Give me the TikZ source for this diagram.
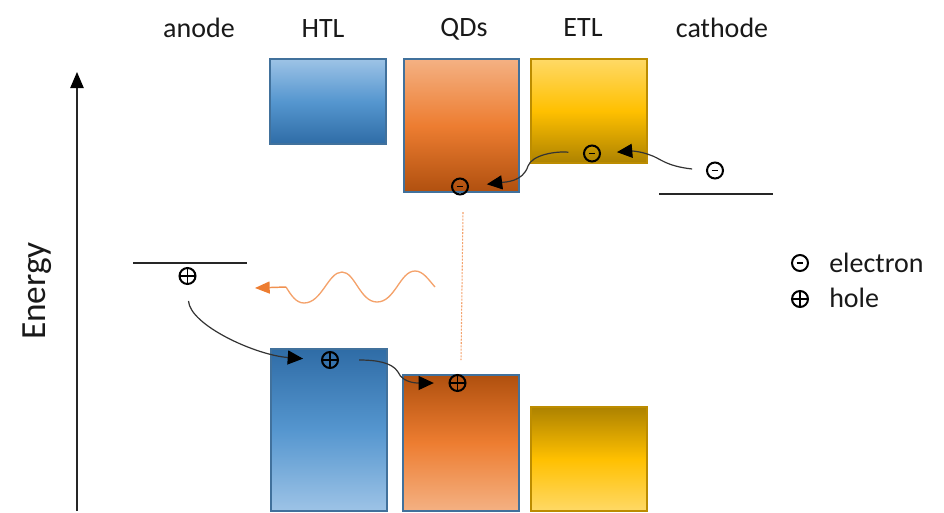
\documentclass[tikz,border=0pt]{standalone}
\usepackage{fontspec}
\setmainfont{Carlito}
\usetikzlibrary{arrows.meta}
\definecolor{bluelt}{HTML}{9DC3E6}\definecolor{bluemd}{HTML}{5596CF}\definecolor{bluedk}{HTML}{2F6CA6}
\definecolor{orglt}{HTML}{F4B183}\definecolor{orgmd}{HTML}{ED7D31}\definecolor{orgdk}{HTML}{B0500F}
\definecolor{gldlt}{HTML}{FFD966}\definecolor{gldmd}{HTML}{FFC000}\definecolor{glddk}{HTML}{AD8200}
\definecolor{edgeblue}{HTML}{41719C}\definecolor{edgegold}{HTML}{BC8C00}\definecolor{waveorg}{HTML}{F4A26B}
\tikzset{
  x=0.75pt,y=-0.75pt,
  lbl/.style={font=\fontsize{21}{23}\selectfont,inner sep=0pt,text=black!90},
  band/.style args={#1/#2}{draw=edgeblue,line width=1.5pt,inner sep=0pt,minimum width=#1*0.75pt,minimum height=#2*0.75pt},
  goldedge/.style={draw=edgegold},
  bu/.style={top color=bluelt,bottom color=bluedk,middle color=bluemd},
  bd/.style={top color=bluedk,bottom color=bluelt,middle color=bluemd},
  ou/.style={top color=orglt,bottom color=orgdk,middle color=orgmd},
  od/.style={top color=orgdk,bottom color=orglt,middle color=orgmd},
  gu/.style={top color=gldlt,bottom color=glddk,middle color=gldmd},
  gd/.style={top color=glddk,bottom color=gldlt,middle color=gldmd},
  carrier/.style={circle,draw=black,line width=1.5pt,minimum size=12pt,inner sep=0pt},
  elec/.style={carrier,path picture={\draw[line width=1pt] ([xshift=-2.5pt]path picture bounding box.center)--([xshift=2.5pt]path picture bounding box.center);}},
  hole/.style={carrier,path picture={\draw[line width=0.9pt] (path picture bounding box.west)--(path picture bounding box.east) (path picture bounding box.north)--(path picture bounding box.south);}},
  level/.style={line width=0.9pt,black!85},
  flow/.style={line width=0.9pt,black!80,-{Triangle[length=11.5pt,width=10.5pt,black]}},
}
\begin{document}
\begin{tikzpicture}
\useasboundingbox (0,0) rectangle (944,512);
% bands
\node[band=116/85,bu] (htlU) at (328,101.5) {};
\node[band=115/133,ou] (qdU) at (461.5,125.5) {};
\node[band=116/104,gu,goldedge] (etlU) at (589,111) {};
\node[band=116/162,bd] (htlD) at (329,430) {};
\node[band=116/136,od] (qdD) at (461,443) {};
\node[band=116/104,gd,goldedge] (etlD) at (589,459) {};
% titles
\node[lbl] (tA) at (199,28) {anode};
\node[lbl] (tH) at (323,29) {HTL};
\node[lbl] (tQ) at (464,29) {QDs};
\node[lbl] (tE) at (583,28) {ETL};
\node[lbl] (tC) at (722,28) {cathode};
\node[lbl,font=\fontsize{26.5}{28}\selectfont,rotate=90] (tEn) at (37,291) {Energy};
% axis
\coordinate (ax0) at (77,511);
\coordinate (ax1) at (77,72);
\draw[line width=0.9pt,black!85,-{Triangle[length=12pt,width=10pt,black]}] (ax0)--(ax1);
% levels
\coordinate (cl) at (659,194); \coordinate (cr) at (773,194);
\coordinate (al) at (133,263); \coordinate (ar) at (247,263);
\draw[level] (cl)--(cr);
\draw[level] (al)--(ar);
% carriers
\node[elec] (e0) at (715,170.5) {};
\node[elec] (e1) at (592,153.5) {};
\node[elec] (e2) at (460,186.5) {};
\node[hole] (h0) at (187.5,276) {};
\node[hole] (h1) at (330,360) {};
\node[hole] (h2) at (457.5,383) {};
\node[elec] (le) at (800,263) {};
\node[hole] (lh) at (800,299) {};
\node[lbl,anchor=west] (te) at (829,263) {electron};
\node[lbl,anchor=west] (th) at (829,298) {hole};
% flows
\draw[flow,shorten <=10.5pt,shorten >=12pt] (e0.west) .. controls (665,166) and (660,158) .. (650,155) .. controls (640,151) and (630,151) .. (e1.east);
\draw[flow,shorten <=11pt,shorten >=13.5pt] (e1.west) .. controls (555,151) and (532,155) .. (528,166) .. controls (523,182) and (505,182) .. (e2.east);
\draw[flow,shorten <=12pt,shorten >=13.5pt] (h0.south) .. controls (190,325) and (255,355) .. (h1.west);
\draw[flow,shorten <=15pt,shorten >=11pt] (h1.east) .. controls (375,360) and (392,362) .. (398,372) .. controls (403,384) and (420,383) .. (h2.west);
% emission
\coordinate (w0) at (435,287);
\coordinate (w1) at (286,287);
\coordinate (w2) at (255,288);
\draw[line width=1pt,waveorg] (w0) .. controls (428,279) and (423,271) .. (415,271)
  .. controls (400,271) and (395,302) .. (377,302)
  .. controls (360,302) and (355,272) .. (342,272)
  .. controls (328,272) and (322,303) .. (304,303)
  .. controls (296,303) and (291,295) .. (w1);
\draw[line width=1.1pt,orgmd!85,-{Triangle[length=11pt,width=9pt,orgmd]}] (w1)--(w2);
% recombination
\coordinate (d0) at (463,212);
\coordinate (d1) at (461,360);
\draw[line width=0.8pt,waveorg,dash pattern=on 1.5pt off 1pt] (d0)--(d1);
\end{tikzpicture}
\end{document}
